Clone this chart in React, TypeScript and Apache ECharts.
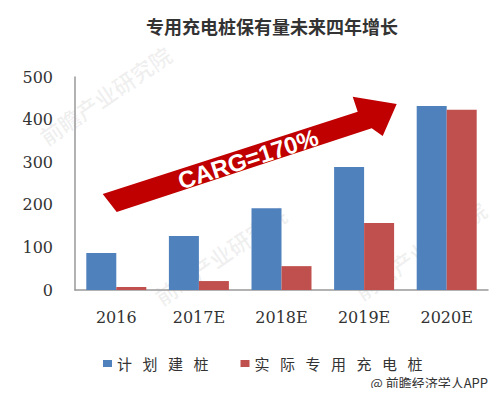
import React, { useEffect, useRef } from "react";
import * as echarts from "echarts";

const categories = ["2016", "2017E", "2018E", "2019E", "2020E"];
const plannedPiles = [87, 127, 192, 289, 432];
const actualPiles = [7, 21, 56, 157, 423];
const seriesNames = ["计划建桩", "实际专用充电桩"];
const yTicks = { min: 0, max: 500, interval: 100 };

const spaced = (s: string) => s.split("\u0000").join("") .split("").join("\u2002\u2009");

const watermark = (x: number, y: number, text: string) => ({
  type: "text",
  z: 0,
  x,
  y,
  rotation: 0.6,
  silent: true,
  style: {
    text,
    fill: "rgba(0,0,0,0.06)",
    font: "bold 22px Noto Sans CJK SC",
    align: "center",
    verticalAlign: "middle",
  },
});

export default function App() {
  const ref = useRef<HTMLDivElement>(null);
  useEffect(() => {
    if (!ref.current) return;
    const chart = echarts.init(ref.current, null, { renderer: "svg" });
    chart.setOption({
      animation: false,
      backgroundColor: "#ffffff",
      title: {
        text: "专用充电桩保有量未来四年增长",
        left: 141,
        top: 12,
        textStyle: {
          fontFamily: "Noto Sans CJK SC",
          fontSize: 18,
          fontWeight: "bold",
          color: "#333333",
        },
      },
      grid: { left: 75, right: 12, top: 77, bottom: 106, containLabel: false },
      legend: {
        left: 98,
        top: 351,
        itemWidth: 9,
        itemHeight: 7,
        itemGap: 32,
        icon: "rect",
        formatter: (n: string) => spaced(n),
        textStyle: { fontFamily: "Noto Sans CJK SC", fontSize: 15, color: "#333333" },
        data: seriesNames,
      },
      xAxis: {
        type: "category",
        data: categories,
        axisLine: { show: true, lineStyle: { color: "#999999", width: 1.5 } },
        axisTick: { show: false },
        axisLabel: {
          margin: 19,
          fontFamily: "DejaVu Serif",
          fontSize: 16,
          color: "#333333",
        },
      },
      yAxis: {
        type: "value",
        min: yTicks.min,
        max: yTicks.max,
        interval: yTicks.interval,
        axisLine: { show: true, lineStyle: { color: "#999999", width: 1.5 } },
        axisTick: { show: false },
        splitLine: { show: false },
        axisLabel: {
          margin: 22,
          fontFamily: "DejaVu Serif",
          fontSize: 16,
          color: "#333333",
        },
      },
      series: [
        {
          name: seriesNames[0],
          type: "bar",
          data: plannedPiles,
          barWidth: 30,
          barGap: "0%",
          itemStyle: { color: "#4F81BD" },
        },
        {
          name: seriesNames[1],
          type: "bar",
          data: actualPiles,
          barWidth: 30,
          barGap: "0%",
          itemStyle: { color: "#C0504D" },
        },
      ],
      graphic: [
        watermark(105, 95, "前瞻产业研究院"),
        watermark(220, 255, "前瞻产业研究院"),
        watermark(420, 250, "前瞻产业研究院"),
        {
          type: "polygon",
          z: 100,
          shape: {
            points: [
              [102.7, 194],
              [116.7, 212],
              [371.7, 128.3],
              [382.7, 136],
              [396.7, 104],
              [352.7, 96.7],
              [357.7, 111.7],
            ],
          },
          style: { fill: "#C00000" },
        },
        {
          type: "text",
          z: 101,
          x: 248,
          y: 159,
          rotation: 0.315,
          style: {
            text: "CARG=170%",
            fill: "#ffffff",
            font: "bold 24px Liberation Sans",
            align: "center",
            verticalAlign: "middle",
          },
        },
        {
          type: "text",
          right: 12,
          top: 376,
          style: {
            text: "@ 前瞻经济学人APP",
            fill: "#333333",
            font: "13px Noto Sans CJK SC",
          },
        },
      ],
    });
    return () => chart.dispose();
  }, []);
  return <div ref={ref} style={{ width: 500, height: 396, margin: -8 }} />;
}
